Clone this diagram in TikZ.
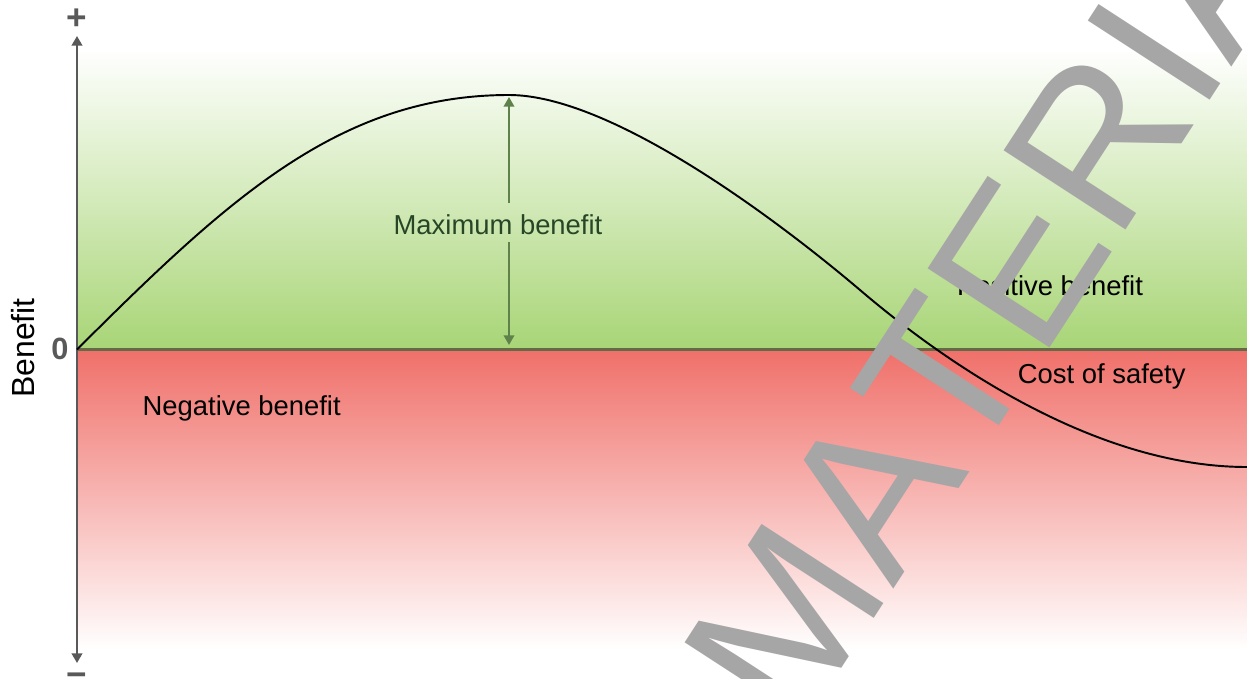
\documentclass[tikz,border=0pt]{standalone}
\usepackage{fontspec}
\setmainfont{Liberation Sans}
\newfontfamily\wmfont{Liberation Sans}[Kerning=Off]
\usetikzlibrary{arrows.meta}
\definecolor{greenC}{RGB}{168,213,118}
\definecolor{redC}{RGB}{240,112,106}
\definecolor{axisC}{RGB}{89,89,89}
\definecolor{zeroC}{RGB}{100,105,70}
\definecolor{maxC}{RGB}{38,70,38}
\definecolor{maxArrowC}{RGB}{95,130,75}
\definecolor{wmC}{RGB}{166,166,166}
\begin{document}
\begin{tikzpicture}[x=0.02cm,y=-0.02cm,
  lbl/.style={font=\fontsize{15.6}{18}\selectfont, inner sep=0pt, anchor=base, text=black},
  axisline/.style={draw=axisC, line width=1.3pt, {Triangle[width=6pt,length=5.5pt]}-{Triangle[width=6pt,length=5.5pt]}},
  zeroline/.style={draw=zeroC, line width=1.3pt},
  curveline/.style={draw=black, line width=1.1pt},
  maxarrow/.style={draw=maxArrowC, line width=1.1pt, -{Triangle[width=6pt,length=5.5pt]}},
  signlbl/.style={font=\bfseries\fontsize{20}{22}\selectfont, text=axisC, inner sep=0pt, anchor=base},
  wmark/.style={font=\wmfont\fontsize{120.2}{120}\selectfont, text=wmC, inner sep=0pt}
]
\useasboundingbox (0,0) rectangle (1247,679);
\clip (0,0) rectangle (1247,679);

% background bands
\fill[top color=white, bottom color=greenC] (77,48) rectangle (1247,349.5);
\fill[top color=redC, bottom color=white] (77,349.5) rectangle (1247,650);

% zero line
\coordinate (z0) at (77,349.5);
\coordinate (z1) at (1247,349.5);
\draw[zeroline] (z0) -- (z1);

% vertical axis
\coordinate (ytop) at (77,36);
\coordinate (ybot) at (77,663);
\draw[axisline] (ybot) -- (ytop);
\node[signlbl] (plus) at (77,30) {+};
\node[signlbl] (minus) at (77,686) {−};
\node[font=\bfseries\fontsize{17.5}{20}\selectfont, text=axisC, inner sep=0pt] (zero) at (60,349) {0};
\node[font=\fontsize{18.2}{20}\selectfont, rotate=90, anchor=base, inner sep=0pt] (ylab) at (34,348) {Benefit};

% benefit curve
\coordinate (origin) at (77,349.5);
\coordinate (peak) at (509,95);
\coordinate (infl) at (860,290);
\coordinate (cend) at (1247,467);
\draw[curveline] (origin) .. controls (227,200) and (339,95) .. (peak)
  .. controls (610,95) and (774,217) .. (infl)
  .. controls (962,377) and (1106,467) .. (cend);

% maximum benefit
\node[lbl, text=maxC] (maxlbl) at (498,234) {Maximum benefit};
\coordinate (mtop) at (509,203);
\coordinate (mbot) at (509,242);
\coordinate (peaktip) at (509,97);
\coordinate (zerotip) at (509,345);
\draw[maxarrow] (mtop) -- (peaktip);
\draw[maxarrow] (mbot) -- (zerotip);

% region labels
\node[lbl] (pos) at (1050,295.7) {Positive benefit};
\node[lbl] (cost) at (1101.7,383.3) {Cost of safety};
\node[lbl] (neg) at (241.7,415) {Negative benefit};

% watermark
\node[wmark, anchor=base west, rotate=57] (wm) at (797.1,737.1) {MATERIAL};
\end{tikzpicture}
\end{document}
